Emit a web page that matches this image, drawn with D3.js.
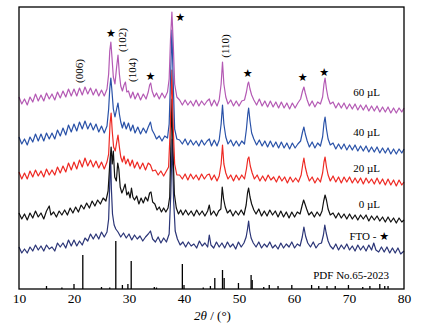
<!DOCTYPE html>
<html>
<head>
<meta charset="utf-8">
<script src="https://cdn.jsdelivr.net/npm/d3@7/dist/d3.min.js"></script>
<style>
  body { margin: 0; background: #fff; }
  svg { display: block; }
  text { font-family: "Times New Roman", "Liberation Serif", serif; fill: #000; }
  .star { font-family: "DejaVu Sans", sans-serif; }
</style>
</head>
<body>
<svg></svg>
<script>
// XRD patterns, [2theta, intensity (a.u.)], stacked
const fto = [[10,42],[10.5,36],[11,40],[11.5,36],[12,42],[12.5,38],[13,44],[13.5,39],[14,43],[14.5,38],[15,44],[15.5,40],[16,42],[16.5,38],[17,46],[17.5,42],[18,46],[18.5,41],[19,49],[19.5,43],[20,49],[20.5,43],[21,48],[21.5,44],[22,51],[22.5,48],[23,55],[23.5,50],[24,55],[24.5,50],[25,57],[25.5,52],[26,57],[26.3,70],[26.5,105],[26.65,135],[26.8,100],[27,75],[27.3,64],[27.6,60],[28,57],[28.5,52],[29,56],[29.5,51],[30,55],[30.5,49],[31,54],[31.5,50],[32,53],[32.5,48],[33,52],[33.5,55],[33.9,58],[34.3,50],[34.8,47],[35.3,52],[35.8,46],[36.3,51],[36.8,47],[37.3,55],[37.6,95],[37.85,150],[38.1,90],[38.4,58],[38.8,50],[39.3,44],[39.8,47],[40.3,42],[40.8,47],[41.3,43],[41.8,45],[42.3,41],[42.8,48],[43.3,43],[43.8,46],[44.3,42],[44.6,54],[44.9,44],[45.4,41],[45.9,47],[46.4,42],[46.9,46],[47.4,41],[47.9,47],[48.4,42],[48.9,45],[49.4,40],[49.9,47],[50.4,42],[50.9,46],[51.3,52],[51.55,60],[51.75,68],[51.95,58],[52.2,51],[52.6,46],[53.1,42],[53.6,47],[54.1,41],[54.6,45],[55.1,42],[55.6,47],[56.1,41],[56.6,44],[57.1,40],[57.6,46],[58.1,41],[58.6,45],[59.1,42],[59.6,47],[60.1,41],[60.6,45],[61.1,43],[61.5,52],[61.8,62],[62.1,53],[62.5,46],[63,42],[63.5,47],[64,41],[64.5,45],[65,46],[65.35,54],[65.6,64],[65.85,56],[66.2,48],[66.6,43],[67.1,40],[67.6,45],[68.1,39],[68.6,44],[69.1,40],[69.6,45],[70.1,39],[70.6,43],[71.1,38],[71.6,44],[72.1,39],[72.6,43],[73.1,38],[73.6,44],[74.1,39],[74.5,46],[74.9,39],[75.4,37],[75.9,42],[76.4,37],[76.9,42],[77.4,36],[77.9,41],[78.4,36],[78.9,41],[79.4,35],[80,38]];

const ul0 = [[10,76],[10.5,70],[11,75],[11.5,69],[12,76],[12.5,71],[13,78],[13.5,72],[14,76],[14.5,70],[15,78],[15.5,83],[15.8,74],[16.3,77],[16.8,72],[17.3,78],[17.8,74],[18.3,79],[18.8,74],[19.3,81],[19.8,76],[20.3,82],[20.8,77],[21.3,84],[21.8,80],[22.3,86],[22.8,81],[23.3,88],[23.8,83],[24.3,89],[24.8,85],[25.3,91],[25.8,88],[26.2,98],[26.5,125],[26.75,142],[26.95,125],[27.15,138],[27.4,112],[27.7,108],[27.95,126],[28.15,120],[28.4,102],[28.7,96],[29,100],[29.3,105],[29.6,94],[29.9,97],[30.2,91],[30.45,101],[30.7,92],[31,89],[31.4,93],[31.8,85],[32.2,91],[32.6,86],[33,92],[33.4,88],[33.75,96],[34,97],[34.3,87],[34.7,85],[35.1,79],[35.5,82],[35.9,77],[36.3,81],[36.7,77],[37.1,81],[37.4,92],[37.6,140],[37.8,190],[38,140],[38.25,95],[38.6,81],[39,75],[39.4,79],[39.8,74],[40.3,79],[40.8,74],[41.3,78],[41.8,73],[42.3,79],[42.8,74],[43.3,78],[43.8,73],[44.3,78],[44.6,84],[44.9,74],[45.4,78],[45.9,73],[46.3,78],[46.7,80],[46.95,102],[47.2,90],[47.5,82],[47.9,76],[48.4,79],[48.9,73],[49.4,78],[49.9,74],[50.4,79],[50.9,74],[51.3,84],[51.55,96],[51.75,101],[52,92],[52.3,85],[52.7,79],[53.1,75],[53.6,80],[54.1,73],[54.6,78],[55.1,73],[55.6,79],[56.1,74],[56.6,78],[57.1,72],[57.6,78],[58.1,72],[58.6,77],[59.1,71],[59.6,77],[60.1,72],[60.6,77],[61.1,75],[61.5,84],[61.75,89],[62,85],[62.3,80],[62.7,74],[63.2,77],[63.7,72],[64.2,77],[64.7,73],[65.1,78],[65.4,88],[65.65,94],[65.9,89],[66.2,80],[66.6,74],[67.1,76],[67.6,71],[68.1,76],[68.6,71],[69.1,75],[69.6,70],[70.1,75],[70.6,70],[71.1,74],[71.6,69],[72.1,74],[72.6,70],[73.1,74],[73.6,68],[74.1,73],[74.6,69],[75.1,73],[75.6,68],[76.1,72],[76.6,67],[77.1,72],[77.6,67],[78.1,71],[78.6,66],[79.1,71],[79.6,67],[80,69]];

const ul20 = [[10,117],[10.5,110],[11,116],[11.5,110],[12,118],[12.5,112],[13,119],[13.5,113],[14,118],[14.5,112],[15,120],[15.5,114],[16,119],[16.5,114],[17,122],[17.5,116],[18,123],[18.5,117],[19,126],[19.5,119],[20,127],[20.5,120],[21,129],[21.5,122],[22,131],[22.5,123],[23,129],[23.5,122],[24,128],[24.5,121],[25,127],[25.5,120],[26,127],[26.3,135],[26.55,165],[26.75,176],[26.95,158],[27.2,142],[27.5,138],[27.8,148],[28,154],[28.25,142],[28.5,132],[28.8,127],[29.1,133],[29.4,125],[29.8,130],[30.2,123],[30.6,129],[31,121],[31.5,127],[32,120],[32.5,126],[33,119],[33.5,126],[33.9,124],[34.3,118],[34.8,119],[35.3,114],[35.8,118],[36.3,113],[36.8,118],[37.2,122],[37.5,160],[37.8,219],[38.05,160],[38.3,125],[38.7,114],[39.2,114],[39.7,110],[40.2,115],[40.7,109],[41.2,115],[41.7,110],[42.2,114],[42.7,109],[43.2,115],[43.7,110],[44.2,114],[44.6,115],[45,109],[45.5,114],[46,108],[46.4,113],[46.75,125],[47,144],[47.25,125],[47.6,116],[48,110],[48.5,114],[49,108],[49.5,114],[50,109],[50.5,114],[51,110],[51.35,120],[51.6,130],[51.8,132],[52.05,123],[52.4,116],[52.8,110],[53.3,114],[53.8,108],[54.3,113],[54.8,108],[55.3,114],[55.8,109],[56.3,112],[56.8,107],[57.3,113],[57.8,108],[58.3,112],[58.8,106],[59.3,112],[59.8,107],[60.3,111],[60.8,107],[61.3,114],[61.6,125],[61.8,131],[62.05,122],[62.4,114],[62.8,108],[63.3,112],[63.8,106],[64.3,111],[64.8,107],[65.2,116],[65.45,127],[65.65,132],[65.9,122],[66.2,114],[66.6,108],[67.1,113],[67.6,107],[68.1,112],[68.6,106],[69.1,112],[69.6,107],[70.1,112],[70.6,106],[71.1,111],[71.6,106],[72.1,111],[72.6,105],[73.1,111],[73.6,106],[74.1,110],[74.6,105],[75.1,111],[75.6,105],[76.1,110],[76.6,104],[77.1,110],[77.6,104],[78.1,109],[78.6,103],[79.1,109],[79.6,104],[80,107]];

const ul40 = [[10,152],[10.5,145],[11,150],[11.5,144],[12,152],[12.5,147],[13,155],[13.5,148],[14,155],[14.5,148],[15,156],[15.5,150],[16,156],[16.5,150],[17,159],[17.5,153],[18,161],[18.5,154],[19,164],[19.5,157],[20,165],[20.5,158],[21,167],[21.5,160],[22,168],[22.5,160],[23,166],[23.5,159],[24,165],[24.5,157],[25,163],[25.5,156],[26,163],[26.3,180],[26.5,200],[26.7,211],[26.9,198],[27.15,180],[27.45,172],[27.75,180],[28,186],[28.25,175],[28.5,167],[28.8,161],[29.1,167],[29.5,160],[29.9,166],[30.3,158],[30.7,164],[31.1,156],[31.6,162],[32.1,155],[32.6,161],[33.1,156],[33.5,162],[33.9,167],[34.2,159],[34.6,155],[35,150],[35.5,153],[36,148],[36.5,153],[37,151],[37.3,165],[37.55,210],[37.8,259],[38.05,205],[38.3,160],[38.7,150],[39.2,149],[39.7,145],[40.2,150],[40.7,144],[41.2,149],[41.7,144],[42.2,148],[42.7,143],[43.2,149],[43.7,144],[44.2,148],[44.6,150],[45,143],[45.5,149],[46,143],[46.4,149],[46.75,165],[47,184],[47.25,165],[47.6,152],[48,145],[48.5,149],[49,143],[49.5,148],[50,143],[50.5,148],[51,145],[51.35,160],[51.6,175],[51.75,181],[52,168],[52.3,156],[52.7,150],[53.2,144],[53.7,149],[54.2,143],[54.7,148],[55.2,142],[55.7,148],[56.2,142],[56.7,147],[57.2,141],[57.7,147],[58.2,141],[58.7,146],[59.2,140],[59.7,146],[60.2,141],[60.7,145],[61.2,148],[61.55,157],[61.8,162],[62.05,155],[62.4,148],[62.8,142],[63.3,147],[63.8,141],[64.3,146],[64.8,143],[65.2,152],[65.45,166],[65.65,172],[65.9,160],[66.2,150],[66.6,144],[67.1,146],[67.6,140],[68.1,145],[68.6,140],[69.1,145],[69.6,139],[70.1,144],[70.6,139],[71.1,144],[71.6,138],[72.1,143],[72.6,138],[73.1,143],[73.6,137],[74.1,142],[74.6,137],[75.1,142],[75.6,136],[76.1,141],[76.6,136],[77.1,141],[77.6,135],[78.1,140],[78.6,135],[79.1,140],[79.6,136],[80,140]];

const ul60 = [[10,192],[10.5,185],[11,190],[11.5,184],[12,192],[12.5,187],[13,195],[13.5,188],[14,194],[14.5,188],[15,196],[15.5,190],[16,195],[16.5,189],[17,197],[17.5,191],[18,198],[18.5,192],[19,200],[19.5,193],[20,200],[20.5,193],[21,201],[21.5,194],[22,202],[22.5,195],[23,201],[23.5,194],[24,200],[24.5,193],[25,199],[25.5,193],[26,200],[26.3,215],[26.5,238],[26.7,247],[26.9,232],[27.15,212],[27.45,205],[27.75,222],[28,234],[28.25,215],[28.5,203],[28.8,198],[29.1,204],[29.35,207],[29.6,197],[29.9,198],[30.3,191],[30.7,197],[31.1,190],[31.6,196],[32.1,189],[32.6,195],[33.1,190],[33.5,197],[33.75,204],[33.95,206],[34.2,198],[34.6,192],[35,196],[35.5,190],[36,196],[36.5,191],[37,197],[37.3,210],[37.55,250],[37.8,277],[38.05,245],[38.3,205],[38.7,192],[39.2,189],[39.7,184],[40.2,189],[40.7,184],[41.2,188],[41.7,183],[42.2,189],[42.7,183],[43.2,188],[43.7,184],[44.2,188],[44.6,190],[45,183],[45.5,189],[46,183],[46.4,189],[46.75,205],[47,227],[47.25,205],[47.6,192],[48,185],[48.5,189],[49,183],[49.5,188],[50,183],[50.5,188],[51,189],[51.35,197],[51.6,205],[51.75,207],[52,200],[52.3,194],[52.7,189],[53.2,184],[53.7,190],[54.2,183],[54.7,188],[55.2,182],[55.7,188],[56.2,182],[56.7,187],[57.2,181],[57.7,187],[58.2,181],[58.7,186],[59.2,180],[59.7,186],[60.2,181],[60.7,186],[61.2,190],[61.55,198],[61.8,202],[62.05,196],[62.4,189],[62.8,183],[63.3,188],[63.8,182],[64.3,187],[64.8,185],[65.2,192],[65.45,205],[65.65,211],[65.9,200],[66.2,191],[66.6,185],[67.1,187],[67.6,181],[68.1,186],[68.6,181],[69.1,186],[69.6,180],[70.1,185],[70.6,180],[71.1,185],[71.6,179],[72.1,184],[72.6,179],[73.1,184],[73.6,178],[74.1,183],[74.6,178],[75.1,183],[75.6,177],[76.1,182],[76.6,177],[77.1,182],[77.6,176],[78.1,181],[78.6,176],[79.1,181],[79.6,177],[80,181]];

// PDF No.65-2023 reference sticks [2theta, intensity]
const pdfSticks = [[15,3],[17.8,1.5],[20,5],[21.6,34],[25,2],[26.5,1.5],[27.6,48],[28.8,4],[29.8,5],[30.4,28],[34.6,2],[35,1.5],[39.7,25],[40,4],[43.5,1.5],[44.8,3],[45.6,11],[47,19],[47.3,11],[49.9,6],[52.2,14],[52.4,9],[54.5,2],[55.5,4],[57.1,3],[59.6,4],[63.2,4],[64.5,3],[66,3],[67.5,3],[69.9,4],[72.5,2],[73.8,3],[75.6,5],[76.5,3],[77.1,3]];

const seriesNames = ["FTO - ", "0 µL", "20 µL", "40 µL", "60 µL"];
const seriesColors = ["#2b3577", "#111111", "#ee2a24", "#2a52a8", "#b45ab4"];
const xTicks = [10, 20, 30, 40, 50, 60, 70, 80];

// peak markers (in data coords)
const starTheta = [26.7, 33.9, 39.3, 51.6, 61.6, 65.5];
const starInt = [256, 213, 272, 216, 212, 217];
const hklLabels = ["(006)", "(102)", "(104)", "(110)"];
const hklTheta = [20.9, 28.7, 30.5, 47.45];
const hklInt = [218, 249, 219, 243];

const
    W = 436,
    H = 331,
    LEFT = 19,
    RIGHT = 404,
    TOP = 7,
    BOTTOM = 289

let svg = d3.select('svg')
    .attr('width', W)
    .attr('height', H)

const x = d3.scaleLinear().domain([10, 80]).range([LEFT, RIGHT])
const y = d3.scaleLinear().domain([0, 282]).range([BOTTOM, TOP])

const line = d3.line()
    .x(d => x(d[0]))
    .y(d => y(d[1]))

// reference sticks
svg.append('g')
    .selectAll('line')
    .data(pdfSticks)
    .join('line')
    .attr('x1', d => x(d[0]))
    .attr('x2', d => x(d[0]))
    .attr('y1', y(0))
    .attr('y2', d => y(d[1]))
    .attr('stroke', '#000')
    .attr('stroke-width', 1.3)

// patterns, bottom first
const allSeries = [fto, ul0, ul20, ul40, ul60]
svg.append('g')
    .selectAll('path')
    .data(allSeries)
    .join('path')
    .attr('d', line)
    .attr('fill', 'none')
    .attr('stroke', (d, i) => seriesColors[i])
    .attr('stroke-width', 1.2)
    .attr('stroke-linejoin', 'round')

// axis
const xAxis = svg.append('g')
    .attr('transform', `translate(0,${BOTTOM})`)
    .call(d3.axisBottom(x).tickValues(xTicks).tickSize(0).tickPadding(4))
xAxis.select('.domain').remove()
xAxis.selectAll('text')
    .style('font-family', '"Times New Roman", "Liberation Serif", serif')
    .style('font-size', '13.5px')
    .attr('fill', '#000')

// frame
svg.append('rect')
    .attr('x', LEFT)
    .attr('y', TOP)
    .attr('width', RIGHT - LEFT)
    .attr('height', BOTTOM - TOP)
    .attr('fill', 'none')
    .attr('stroke', '#000')
    .attr('stroke-width', 1.3)

// x title
let xTitle = svg.append('text')
    .attr('x', (LEFT + RIGHT) / 2 + 1)
    .attr('y', 320)
    .attr('text-anchor', 'middle')
    .style('font-size', '13px')
xTitle.append('tspan').text('2').style('font-style', 'italic')
xTitle.append('tspan').text('θ').style('font-style', 'italic')
xTitle.append('tspan').text(' / (°)')

// stars
svg.append('g')
    .selectAll('text')
    .data(starTheta)
    .join('text')
    .attr('class', 'star')
    .attr('x', d => x(d))
    .attr('y', (d, i) => y(starInt[i]))
    .attr('text-anchor', 'middle')
    .attr('dominant-baseline', 'central')
    .style('font-size', '11px')
    .text('★')

// hkl labels
svg.append('g')
    .selectAll('text')
    .data(hklLabels)
    .join('text')
    .attr('transform', (d, i) => `translate(${x(hklTheta[i])},${y(hklInt[i])}) rotate(-90)`)
    .attr('text-anchor', 'middle')
    .attr('dominant-baseline', 'central')
    .style('font-size', '11px')
    .text(d => d)

// series labels
const labelY = [240, 208, 172, 136, 95.5]
const labelX = [389, 380, 380, 380, 380]
seriesNames.forEach((name, i) => {
    let t = svg.append('text')
        .attr('x', labelX[i])
        .attr('y', labelY[i])
        .attr('text-anchor', 'end')
        .style('font-size', '11px')
    t.append('tspan').text(name)
    if (i === 0) t.append('tspan').attr('class', 'star').text('★')
})

svg.append('text')
    .attr('x', 389)
    .attr('y', 279)
    .attr('text-anchor', 'end')
    .style('font-size', '11px')
    .text('PDF No.65-2023')
</script>
</body>
</html>
